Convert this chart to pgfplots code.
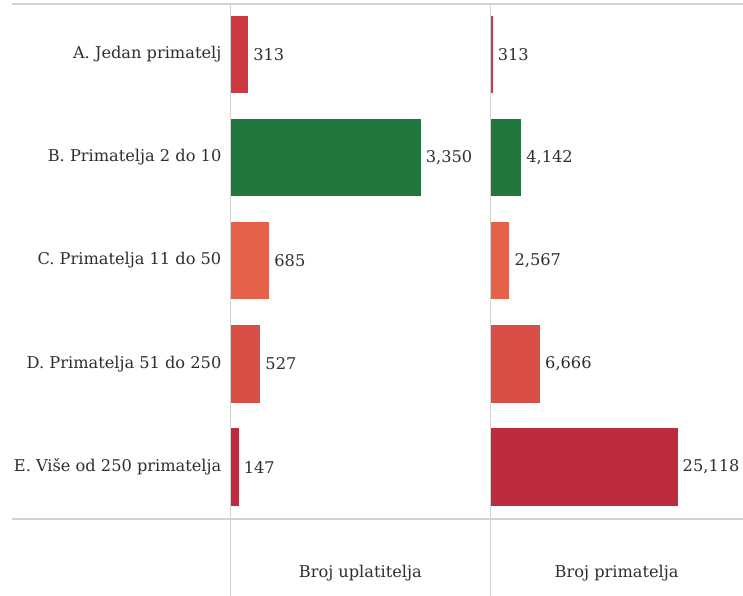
\documentclass[border=0pt]{standalone}
\usepackage{fontspec}
\setmainfont{DejaVu Serif}
\usepackage{pgfplots}
\pgfplotsset{compat=1.18}

\definecolor{cA}{HTML}{CB3A42}
\definecolor{cB}{HTML}{22773F}
\definecolor{cC}{HTML}{E4614A}
\definecolor{cD}{HTML}{D94F46}
\definecolor{cE}{HTML}{BE2B3F}
\definecolor{txt}{HTML}{2E2E2E}
\definecolor{rule}{HTML}{D2D2D2}

\newcommand{\lblfont}{\fontsize{16.2}{19}\selectfont}

\pgfplotsset{
  panel/.style={
    xbar, scale only axis, height=514.7pt,
    y dir=reverse, ymin=-0.487, ymax=4.501,
    bar width=0.751, bar shift=0pt, xmin=0,
    axis line style={draw=none}, tick style={draw=none},
    xtick=\empty, ytick={0,...,4}, yticklabels={},
    clip=false,
    nodes near coords, point meta=x,
    /pgf/number format/.cd, fixed, precision=0, 1000 sep={,}, assume math mode=true,
    /pgfplots/.cd,
    nodes near coords style={anchor=west, inner sep=0pt, xshift=5pt,
      font=\lblfont, text=txt},
    xlabel style={at={(axis description cs:0.5,0)}, anchor=center,
      yshift=-54.3pt, font=\lblfont, text=txt},
  },
}

\begin{document}
\begin{tikzpicture}
\useasboundingbox (0pt,0pt) rectangle (743pt,-596pt);

% left panel: payers
\begin{axis}[panel,
  at={(230.3pt,-518.7pt)}, anchor=south west,
  width=260pt, xmax=4574,
  yticklabels={A. Jedan primatelj, B. Primatelja 2 do 10, C. Primatelja 11 do 50,
    D. Primatelja 51 do 250, E. Više od 250 primatelja},
  yticklabel style={inner sep=0pt, xshift=-4.5pt, font=\lblfont, text=txt},
  xlabel={Broj uplatitelja}]
  \addplot[fill=cA, draw=none] coordinates {(313,0)};
  \addplot[fill=cB, draw=none] coordinates {(3350,1)};
  \addplot[fill=cC, draw=none] coordinates {(685,2)};
  \addplot[fill=cD, draw=none] coordinates {(527,3)};
  \addplot[fill=cE, draw=none] coordinates {(147,4)};
\end{axis}

% right panel: recipients
\begin{axis}[panel,
  at={(490.3pt,-518.7pt)}, anchor=south west,
  width=252.7pt, xmax=33900,
  xlabel={Broj primatelja}]
  \addplot[fill=cA, draw=none] coordinates {(313,0)};
  \addplot[fill=cB, draw=none] coordinates {(4142,1)};
  \addplot[fill=cC, draw=none] coordinates {(2567,2)};
  \addplot[fill=cD, draw=none] coordinates {(6666,3)};
  \addplot[fill=cE, draw=none] coordinates {(25118,4)};
\end{axis}

% frame rules
\draw[rule, line width=1.6pt] (12pt,-4pt) -- (743pt,-4pt);
\draw[rule, line width=1.6pt] (12pt,-518.7pt) -- (743pt,-518.7pt);
\draw[rule, line width=1.6pt] (230.3pt,-4pt) -- (230.3pt,-596pt);
\draw[rule, line width=1.6pt] (490.3pt,-4pt) -- (490.3pt,-596pt);
\end{tikzpicture}
\end{document}
